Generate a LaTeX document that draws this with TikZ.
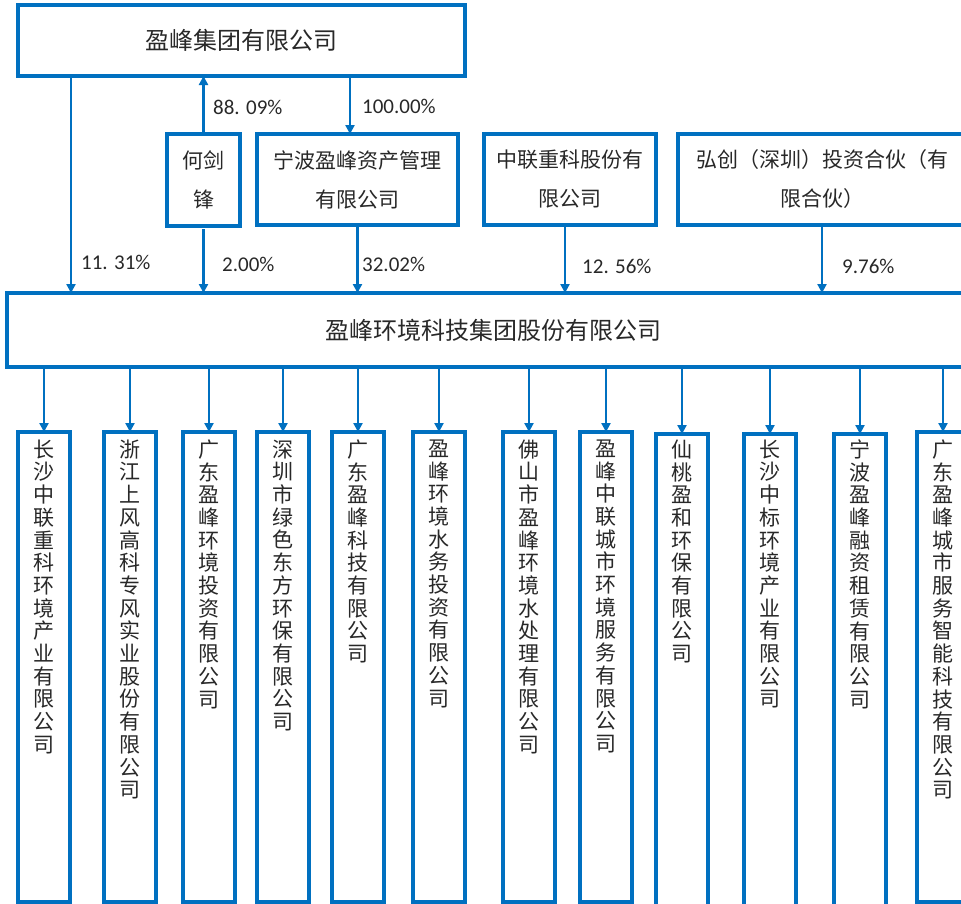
\documentclass[tikz,border=0pt]{standalone}
\usepackage{fontspec}
\setmainfont{Carlito}
\newfontfamily\cjk{Noto Sans CJK SC}
\usetikzlibrary{arrows.meta}
\definecolor{myblue}{RGB}{0,112,192}
\definecolor{txt}{RGB}{40,40,40}
\begin{document}
\begin{tikzpicture}[x=1pt,y=-1pt,
 box/.style={draw=myblue, line width=3.5pt, inner sep=0pt, outer sep=0pt, anchor=north west, text=txt, align=center},
 arr/.style={draw=myblue, line width=2.8pt, -{Triangle[length=9pt,width=9pt]}},
 pct/.style={anchor=west, inner sep=0pt, text=txt, font=\fontsize{21}{24}\selectfont},
 vtxt/.style={anchor=north, inner sep=0pt, text=txt, align=center, font=\cjk\fontsize{21}{22.7}\selectfont},
 midfont/.style={font=\cjk\fontsize{21}{39}\selectfont},
 bigfont/.style={font=\cjk\fontsize{24}{28}\selectfont},
 bot/.style={box, minimum width=52pt, minimum height=470pt},
 botlong/.style={box, minimum width=52pt, minimum height=490pt}]
\useasboundingbox (0,0) rectangle (961,903);
\clip (0,0) rectangle (961,903);

% top level
\node[box, bigfont, minimum width=447pt, minimum height=71pt] (top) at (18,5) {盈峰集团有限公司};
\node[box, midfont, minimum width=73pt, minimum height=92pt] (hjf) at (167,134) {何剑\\锋};
\node[box, midfont, minimum width=201pt, minimum height=91pt] (nb) at (257,134) {宁波盈峰资产管理\\有限公司};
\node[box, midfont, minimum width=172pt, minimum height=91pt] (zl) at (484,134) {中联重科股份有\\限公司};
\node[box, midfont, minimum width=288pt, minimum height=91pt] (hc) at (678,134) {弘创（深圳）投资合伙（有\\限合伙）};
\node[box, bigfont, minimum width=972pt, minimum height=74pt] (big) at (7,293) {盈峰环境科技集团股份有限公司};

% shareholder arrows
\coordinate (a1) at ([xshift=53pt]top.south west);
\draw[arr] (a1) -- (a1 |- big.north);
\draw[arr] (hjf.north) -- (hjf.north |- top.south);
\coordinate (a2) at ([xshift=-7.5pt]nb.north);
\draw[arr] (a2 |- top.south) -- (a2);
\coordinate (a3) at ([yshift=-3pt]hjf.south);
\draw[arr] (a3) -- (a3 |- big.north);
\draw[arr] (nb.south) -- (nb.south |- big.north);
\coordinate (a4) at ([xshift=-5pt]zl.south);
\draw[arr] (a4) -- (a4 |- big.north);
\draw[arr] (hc.south) -- (hc.south |- big.north);

% percentage labels
\node[pct] (p1) at (213,107) {88. 09\%};
\node[pct] (p2) at (362,106) {100.00\%};
\node[pct] (p3) at (81,262) {11. 31\%};
\node[pct] (p4) at (222,264) {2.00\%};
\node[pct] (p5) at (362,264) {32.02\%};
\node[pct] (p6) at (582,266) {12. 56\%};
\node[pct] (p7) at (842,266) {9.76\%};

% subsidiaries
\coordinate (tline) at (0,439.5);
\node[bot] (b1) at (18,432) {};
\node[bot] (b2) at (104,432) {};
\node[bot] (b3) at (183,432) {};
\node[bot] (b4) at (257,432) {};
\node[bot] (b5) at (332,432) {};
\node[bot] (b6) at (413,432) {};
\node[bot] (b7) at (503,432) {};
\node[bot] (b8) at (580,432) {};
\node[botlong] (b9) at (656,434) {};
\node[botlong] (b10) at (744,434) {};
\node[botlong] (b11) at (834,434) {};
\node[bot] (b12) at (917,432) {};

\foreach \i in {1,...,12} {
  \draw[arr] (b\i.north |- big.south) -- (b\i.north);
}

\node[vtxt] (t1) at (b1.north |- tline) {长\\沙\\中\\联\\重\\科\\环\\境\\产\\业\\有\\限\\公\\司};
\node[vtxt] (t2) at (b2.north |- tline) {浙\\江\\上\\风\\高\\科\\专\\风\\实\\业\\股\\份\\有\\限\\公\\司};
\node[vtxt] (t3) at (b3.north |- tline) {广\\东\\盈\\峰\\环\\境\\投\\资\\有\\限\\公\\司};
\node[vtxt] (t4) at (b4.north |- tline) {深\\圳\\市\\绿\\色\\东\\方\\环\\保\\有\\限\\公\\司};
\node[vtxt] (t5) at (b5.north |- tline) {广\\东\\盈\\峰\\科\\技\\有\\限\\公\\司};
\node[vtxt] (t6) at (b6.north |- tline) {盈\\峰\\环\\境\\水\\务\\投\\资\\有\\限\\公\\司};
\node[vtxt] (t7) at (b7.north |- tline) {佛\\山\\市\\盈\\峰\\环\\境\\水\\处\\理\\有\\限\\公\\司};
\node[vtxt] (t8) at (b8.north |- tline) {盈\\峰\\中\\联\\城\\市\\环\\境\\服\\务\\有\\限\\公\\司};
\node[vtxt] (t9) at (b9.north |- tline) {仙\\桃\\盈\\和\\环\\保\\有\\限\\公\\司};
\node[vtxt] (t10) at (b10.north |- tline) {长\\沙\\中\\标\\环\\境\\产\\业\\有\\限\\公\\司};
\node[vtxt] (t11) at (b11.north |- tline) {宁\\波\\盈\\峰\\融\\资\\租\\赁\\有\\限\\公\\司};
\node[vtxt] (t12) at (b12.north |- tline) {广\\东\\盈\\峰\\城\\市\\服\\务\\智\\能\\科\\技\\有\\限\\公\\司};
\end{tikzpicture}
\end{document}
